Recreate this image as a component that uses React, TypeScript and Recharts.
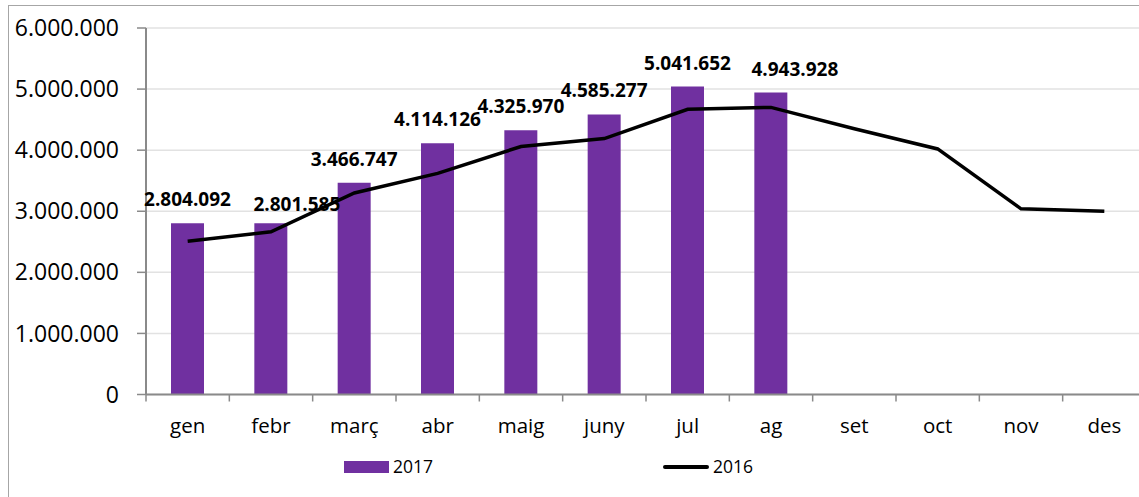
import React from 'react';
import { ComposedChart, Bar, Line, XAxis, YAxis, CartesianGrid, LabelList } from 'recharts';

// months and values
const months = ['gen', 'febr', 'març', 'abr', 'maig', 'juny', 'jul', 'ag', 'set', 'oct', 'nov', 'des'];
const sales2017 = [2804092, 2801585, 3466747, 4114126, 4325970, 4585277, 5041652, 4943928, null, null, null, null];
const sales2016 = [2510000, 2665000, 3300000, 3620000, 4060000, 4190000, 4670000, 4700000, 4350000, 4020000, 3040000, 3000000];
const yTicks = [0, 1000000, 2000000, 3000000, 4000000, 5000000, 6000000];

const data = months.map((m, i) => ({ month: m, y2017: sales2017[i], y2016: sales2016[i] }));

const fmt = (v: number) => String(Math.round(v)).replace(/\B(?=(\d{3})+(?!\d))/g, '.');

const FONT = '"Open Sans", sans-serif';
const AXIS = '#8a8a8a';
const PURPLE = '#7030A0';
const CHART_W = 1160;
const Y_AXIS_W = 146;
const RIGHT = 14;
const X_MARGIN = 24;

// some labels are nudged sideways in the original
const labelShift: Record<number, [number, number]> = { 1: [26, 5], 7: [24, 0] };

const BarLabel = (props: any) => {
  const { x, y, width, value, index } = props;
  if (value == null) return null;
  const [dx, dy] = labelShift[index] || [0, 0];
  return (
    <text
      x={Number(x) + Number(width) / 2 + dx}
      y={Number(y) - 24 + dy}
      textAnchor="middle"
      dominantBaseline="central"
      fontFamily={FONT}
      fontWeight={700}
      fontSize={19}
      fill="#000"
    >
      {fmt(Number(value))}
    </text>
  );
};

// category label plus an Excel-style tick mark between categories
const MonthTick = (props: any) => {
  const { x, y, payload } = props;
  const half = payload && payload.offset ? payload.offset : (CHART_W - Y_AXIS_W - RIGHT) / months.length / 2;
  const axisY = y - X_MARGIN;
  return (
    <g>
      <line x1={x - half} x2={x - half} y1={axisY} y2={axisY + 7} stroke={AXIS} strokeWidth={1.5} />
      <text x={x} y={y} dy="0.71em" textAnchor="middle" fill="#000" fontSize={20.5} fontFamily={FONT}>
        {payload.value}
      </text>
    </g>
  );
};

const App = () => {
  return (
    <div style={{ position: 'fixed', left: 0, top: 0, width: 1139, height: 497, overflow: 'hidden', background: '#fff', fontFamily: FONT }}>
      <div style={{ position: 'absolute', left: 8, top: 5, width: 1200, height: 600, border: '1px solid #a6a6a6' }} />
      <div style={{ position: 'absolute', left: 0, top: 0 }}>
        <ComposedChart width={CHART_W} height={497} data={data} margin={{ top: 28, right: RIGHT, left: 0, bottom: 72.5 }}>
          <CartesianGrid vertical={false} stroke="#e2e2e2" strokeWidth={1.5} />
          <XAxis
            dataKey="month"
            height={30}
            axisLine={{ stroke: AXIS, strokeWidth: 2 }}
            tickLine={false}
            tickSize={0}
            tickMargin={X_MARGIN}
            tick={MonthTick}
            interval={0}
          />
          <YAxis
            domain={[0, 6000000]}
            ticks={yTicks}
            width={Y_AXIS_W}
            tickFormatter={fmt}
            tickSize={9}
            tickMargin={18}
            axisLine={{ stroke: AXIS, strokeWidth: 2 }}
            tickLine={{ stroke: AXIS, strokeWidth: 1.5 }}
            tick={{ fill: '#000', fontSize: 23, fontFamily: FONT }}
          />
          <Bar dataKey="y2017" name="2017" fill={PURPLE} barSize={33} isAnimationActive={false}>
            <LabelList dataKey="y2017" content={BarLabel} />
          </Bar>
          <Line dataKey="y2016" name="2016" type="linear" stroke="#000" strokeWidth={3.5} dot={false} isAnimationActive={false} />
        </ComposedChart>
      </div>
      {/* legend */}
      <div style={{ position: 'absolute', left: 344, top: 461, width: 45, height: 12, background: PURPLE }} />
      <div style={{ position: 'absolute', left: 393, top: 454, fontSize: 17.5, lineHeight: '24px', color: '#000' }}>2017</div>
      <div style={{ position: 'absolute', left: 663, top: 465, width: 46, height: 3.5, borderRadius: 2, background: '#000' }} />
      <div style={{ position: 'absolute', left: 713, top: 454, fontSize: 17.5, lineHeight: '24px', color: '#000' }}>2016</div>
    </div>
  );
};

export default App;
